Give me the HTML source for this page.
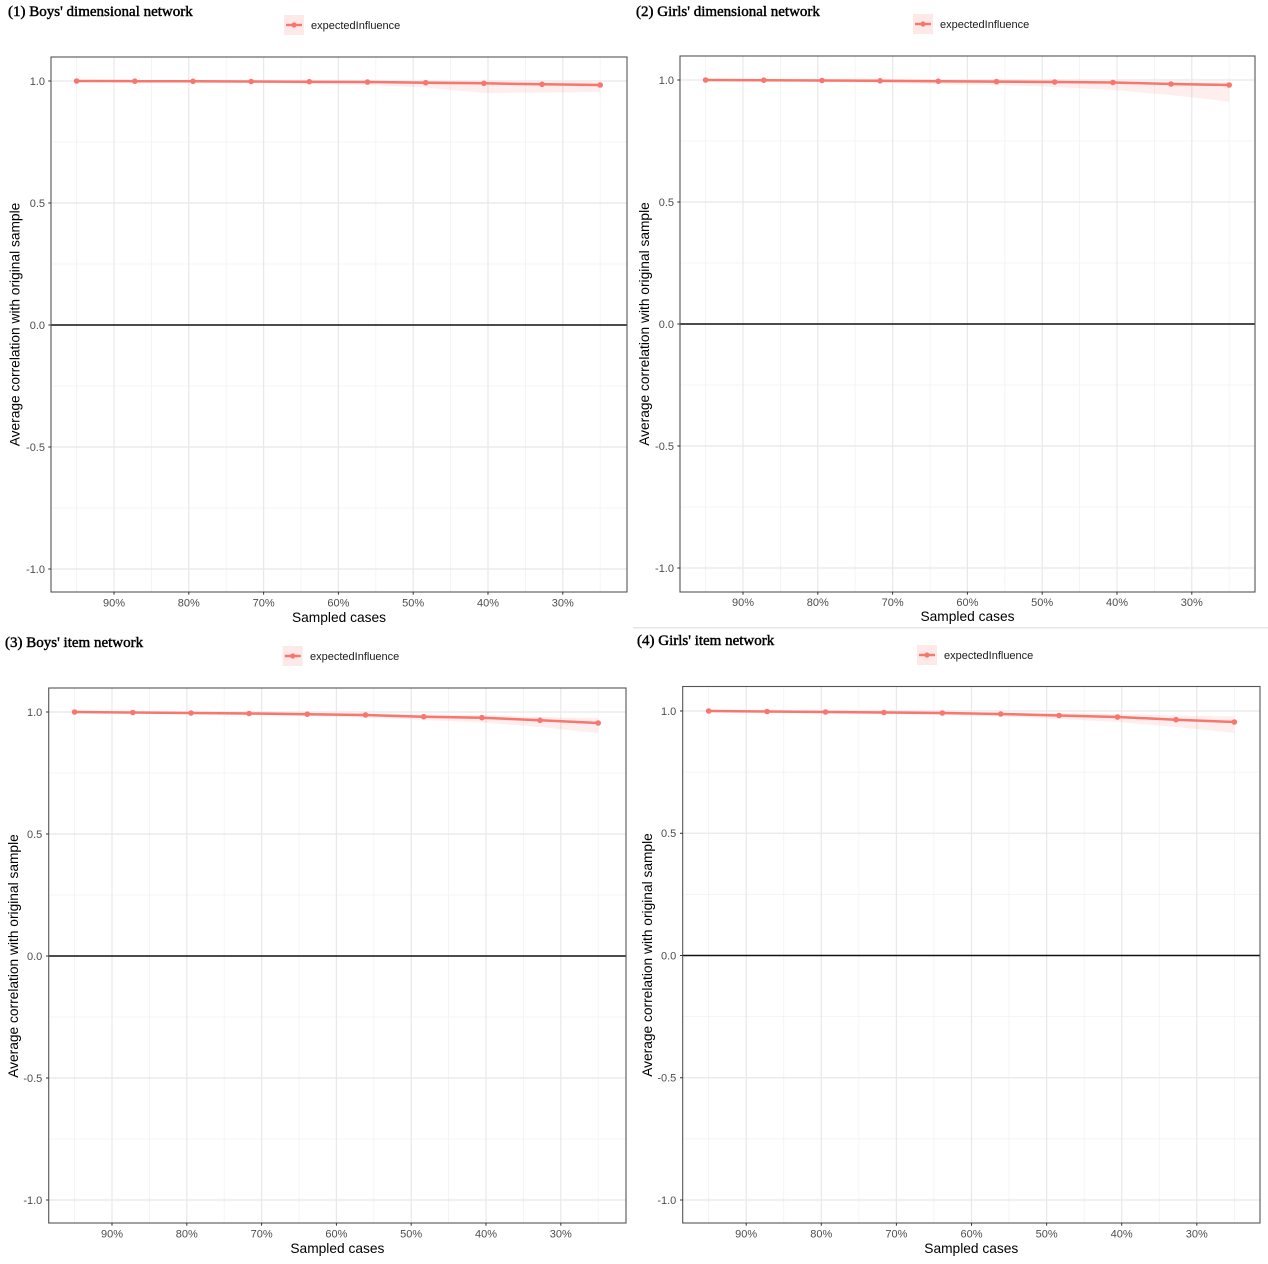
<!DOCTYPE html>
<html><head><meta charset="utf-8"><style>
html,body{margin:0;padding:0;background:#fff;}
svg{display:block;}
.t{font-family:"Liberation Serif","Times New Roman",serif;font-size:15px;fill:#000;stroke:#000;stroke-width:0.45px;}
.tk{font-family:"Liberation Sans",Arial,sans-serif;font-size:11px;fill:#4d4d4d;}
.lg{font-family:"Liberation Sans",Arial,sans-serif;font-size:11px;fill:#1a1a1a;}
.ax{font-family:"Liberation Sans",Arial,sans-serif;font-size:13.75px;fill:#000;}
.gM{stroke:#e8e8e8;stroke-width:1.2;}
.gm{stroke:#f2f2f2;stroke-width:0.8;}
.tkm{stroke:#333;stroke-width:1;}
.bd{fill:none;stroke:#555;stroke-width:1.1;}
.z{stroke:#111;stroke-width:1.4;}
.rb{fill:#F8766D;fill-opacity:0.12;}
.ln{fill:none;stroke:#F8766D;stroke-width:2.5;stroke-linejoin:round;}
.pt{fill:#F8766D;}
.lk{fill:#fdeae8;}
</style></head><body>
<svg width="1268" height="1264" viewBox="0 0 1268 1264" xmlns="http://www.w3.org/2000/svg">
<rect x="0" y="0" width="1268" height="1264" fill="#fff"/>

<!-- ================= PANEL 1 ================= -->
<text class="t" x="8" y="16">(1) Boys' dimensional network</text>
<rect class="lk" x="284" y="15" width="20" height="20"/>
<line x1="286" y1="25" x2="302" y2="25" stroke="#F8766D" stroke-width="2.4"/>
<circle cx="294" cy="25" r="2.6" class="pt"/>
<text class="lg" x="311" y="29">expectedInfluence</text>
<g>
<line class="gm" x1="51" y1="142" x2="627" y2="142"/><line class="gm" x1="51" y1="264" x2="627" y2="264"/><line class="gm" x1="51" y1="386" x2="627" y2="386"/><line class="gm" x1="51" y1="508" x2="627" y2="508"/>
<line class="gm" x1="76.6" y1="57" x2="76.6" y2="592"/><line class="gm" x1="151.4" y1="57" x2="151.4" y2="592"/><line class="gm" x1="226.2" y1="57" x2="226.2" y2="592"/><line class="gm" x1="301" y1="57" x2="301" y2="592"/><line class="gm" x1="375.8" y1="57" x2="375.8" y2="592"/><line class="gm" x1="450.6" y1="57" x2="450.6" y2="592"/><line class="gm" x1="525.4" y1="57" x2="525.4" y2="592"/><line class="gm" x1="600.2" y1="57" x2="600.2" y2="592"/>
<line class="gM" x1="51" y1="81" x2="627" y2="81"/><line class="gM" x1="51" y1="203" x2="627" y2="203"/><line class="gM" x1="51" y1="447" x2="627" y2="447"/><line class="gM" x1="51" y1="569" x2="627" y2="569"/>
<line class="gM" x1="114" y1="57" x2="114" y2="592"/><line class="gM" x1="188.8" y1="57" x2="188.8" y2="592"/><line class="gM" x1="263.6" y1="57" x2="263.6" y2="592"/><line class="gM" x1="338.4" y1="57" x2="338.4" y2="592"/><line class="gM" x1="413.2" y1="57" x2="413.2" y2="592"/><line class="gM" x1="488" y1="57" x2="488" y2="592"/><line class="gM" x1="562.8" y1="57" x2="562.8" y2="592"/>
<line class="z" x1="51" y1="325" x2="627" y2="325"/>
<path class="rb" d="M76.6,81 L134.8,81 L193,81 L251.1,81 L309.3,81 L367.5,81 L425.7,81.2 L483.9,81.5 L542,82 L600.2,82 L600.2,92 L542,92.5 L483.9,93 L425.7,87.5 L367.5,85 L309.3,84 L251.1,83 L193,82.5 L134.8,82 L76.6,81.5 Z"/>
<polyline class="ln" points="76.6,81 134.8,81.2 193,81.3 251.1,81.5 309.3,81.7 367.5,82 425.7,82.7 483.9,83.3 542,84.3 600.2,85"/>
<circle class="pt" cx="76.6" cy="81" r="2.8"/><circle class="pt" cx="134.8" cy="81.2" r="2.8"/><circle class="pt" cx="193" cy="81.3" r="2.8"/><circle class="pt" cx="251.1" cy="81.5" r="2.8"/><circle class="pt" cx="309.3" cy="81.7" r="2.8"/><circle class="pt" cx="367.5" cy="82" r="2.8"/><circle class="pt" cx="425.7" cy="82.7" r="2.8"/><circle class="pt" cx="483.9" cy="83.3" r="2.8"/><circle class="pt" cx="542" cy="84.3" r="2.8"/><circle class="pt" cx="600.2" cy="85" r="2.8"/>
<rect class="bd" x="51" y="57" width="576" height="535"/>
<line class="tkm" x1="48.3" y1="81" x2="51" y2="81"/><line class="tkm" x1="48.3" y1="203" x2="51" y2="203"/><line class="tkm" x1="48.3" y1="325" x2="51" y2="325"/><line class="tkm" x1="48.3" y1="447" x2="51" y2="447"/><line class="tkm" x1="48.3" y1="569" x2="51" y2="569"/>
<line class="tkm" x1="114" y1="592" x2="114" y2="594.7"/><line class="tkm" x1="188.8" y1="592" x2="188.8" y2="594.7"/><line class="tkm" x1="263.6" y1="592" x2="263.6" y2="594.7"/><line class="tkm" x1="338.4" y1="592" x2="338.4" y2="594.7"/><line class="tkm" x1="413.2" y1="592" x2="413.2" y2="594.7"/><line class="tkm" x1="488" y1="592" x2="488" y2="594.7"/><line class="tkm" x1="562.8" y1="592" x2="562.8" y2="594.7"/>
<text class="tk" text-anchor="end" x="45" y="84.9">1.0</text><text class="tk" text-anchor="end" x="45" y="206.9">0.5</text><text class="tk" text-anchor="end" x="45" y="328.9">0.0</text><text class="tk" text-anchor="end" x="45" y="450.9">-0.5</text><text class="tk" text-anchor="end" x="45" y="572.9">-1.0</text>
<text class="tk" text-anchor="middle" x="114" y="606.5">90%</text><text class="tk" text-anchor="middle" x="188.8" y="606.5">80%</text><text class="tk" text-anchor="middle" x="263.6" y="606.5">70%</text><text class="tk" text-anchor="middle" x="338.4" y="606.5">60%</text><text class="tk" text-anchor="middle" x="413.2" y="606.5">50%</text><text class="tk" text-anchor="middle" x="488" y="606.5">40%</text><text class="tk" text-anchor="middle" x="562.8" y="606.5">30%</text>
<text class="ax" text-anchor="middle" x="339" y="622">Sampled cases</text>
<text class="ax" text-anchor="middle" transform="translate(19.5,324.5) rotate(-90)">Average correlation with original sample</text>
</g>

<!-- ================= PANEL 2 ================= -->
<text class="t" x="636" y="16">(2) Girls' dimensional network</text>
<rect class="lk" x="913" y="14" width="20" height="20"/>
<line x1="915" y1="24" x2="931" y2="24" stroke="#F8766D" stroke-width="2.4"/>
<circle cx="923" cy="24" r="2.6" class="pt"/>
<text class="lg" x="940" y="28">expectedInfluence</text>
<g>
<line class="gm" x1="680" y1="141" x2="1255" y2="141"/><line class="gm" x1="680" y1="263" x2="1255" y2="263"/><line class="gm" x1="680" y1="385" x2="1255" y2="385"/><line class="gm" x1="680" y1="507" x2="1255" y2="507"/>
<line class="gm" x1="705.6" y1="56" x2="705.6" y2="592"/><line class="gm" x1="780.4" y1="56" x2="780.4" y2="592"/><line class="gm" x1="855.2" y1="56" x2="855.2" y2="592"/><line class="gm" x1="930" y1="56" x2="930" y2="592"/><line class="gm" x1="1004.8" y1="56" x2="1004.8" y2="592"/><line class="gm" x1="1079.6" y1="56" x2="1079.6" y2="592"/><line class="gm" x1="1154.4" y1="56" x2="1154.4" y2="592"/><line class="gm" x1="1229.2" y1="56" x2="1229.2" y2="592"/>
<line class="gM" x1="680" y1="80" x2="1255" y2="80"/><line class="gM" x1="680" y1="202" x2="1255" y2="202"/><line class="gM" x1="680" y1="446" x2="1255" y2="446"/><line class="gM" x1="680" y1="568" x2="1255" y2="568"/>
<line class="gM" x1="743" y1="56" x2="743" y2="592"/><line class="gM" x1="817.8" y1="56" x2="817.8" y2="592"/><line class="gM" x1="892.6" y1="56" x2="892.6" y2="592"/><line class="gM" x1="967.4" y1="56" x2="967.4" y2="592"/><line class="gM" x1="1042.2" y1="56" x2="1042.2" y2="592"/><line class="gM" x1="1117" y1="56" x2="1117" y2="592"/><line class="gM" x1="1191.8" y1="56" x2="1191.8" y2="592"/>
<line class="z" x1="680" y1="324" x2="1255" y2="324"/>
<path class="rb" d="M705.6,80 L763.8,80 L822,80 L880.1,80 L938.3,80 L996.5,80.3 L1054.7,80.5 L1112.9,81 L1171,81.5 L1229.2,82 L1229.2,101.5 L1171,95 L1112.9,90 L1054.7,87 L996.5,85 L938.3,84 L880.1,83 L822,82 L763.8,81 L705.6,80.5 Z"/>
<polyline class="ln" points="705.6,80 763.8,80.2 822,80.5 880.1,80.8 938.3,81.2 996.5,81.6 1054.7,82 1112.9,82.5 1171,84 1229.2,85"/>
<circle class="pt" cx="705.6" cy="80" r="2.8"/><circle class="pt" cx="763.8" cy="80.2" r="2.8"/><circle class="pt" cx="822" cy="80.5" r="2.8"/><circle class="pt" cx="880.1" cy="80.8" r="2.8"/><circle class="pt" cx="938.3" cy="81.2" r="2.8"/><circle class="pt" cx="996.5" cy="81.6" r="2.8"/><circle class="pt" cx="1054.7" cy="82" r="2.8"/><circle class="pt" cx="1112.9" cy="82.5" r="2.8"/><circle class="pt" cx="1171" cy="84" r="2.8"/><circle class="pt" cx="1229.2" cy="85" r="2.8"/>
<rect class="bd" x="680" y="56" width="575" height="536"/>
<line class="tkm" x1="677.3" y1="80" x2="680" y2="80"/><line class="tkm" x1="677.3" y1="202" x2="680" y2="202"/><line class="tkm" x1="677.3" y1="324" x2="680" y2="324"/><line class="tkm" x1="677.3" y1="446" x2="680" y2="446"/><line class="tkm" x1="677.3" y1="568" x2="680" y2="568"/>
<line class="tkm" x1="743" y1="592" x2="743" y2="594.7"/><line class="tkm" x1="817.8" y1="592" x2="817.8" y2="594.7"/><line class="tkm" x1="892.6" y1="592" x2="892.6" y2="594.7"/><line class="tkm" x1="967.4" y1="592" x2="967.4" y2="594.7"/><line class="tkm" x1="1042.2" y1="592" x2="1042.2" y2="594.7"/><line class="tkm" x1="1117" y1="592" x2="1117" y2="594.7"/><line class="tkm" x1="1191.8" y1="592" x2="1191.8" y2="594.7"/>
<text class="tk" text-anchor="end" x="674" y="83.9">1.0</text><text class="tk" text-anchor="end" x="674" y="205.9">0.5</text><text class="tk" text-anchor="end" x="674" y="327.9">0.0</text><text class="tk" text-anchor="end" x="674" y="449.9">-0.5</text><text class="tk" text-anchor="end" x="674" y="571.9">-1.0</text>
<text class="tk" text-anchor="middle" x="743" y="606">90%</text><text class="tk" text-anchor="middle" x="817.8" y="606">80%</text><text class="tk" text-anchor="middle" x="892.6" y="606">70%</text><text class="tk" text-anchor="middle" x="967.4" y="606">60%</text><text class="tk" text-anchor="middle" x="1042.2" y="606">50%</text><text class="tk" text-anchor="middle" x="1117" y="606">40%</text><text class="tk" text-anchor="middle" x="1191.8" y="606">30%</text>
<text class="ax" text-anchor="middle" x="967.5" y="621">Sampled cases</text>
<text class="ax" text-anchor="middle" transform="translate(649,324) rotate(-90)">Average correlation with original sample</text>
</g>

<!-- separator -->
<line x1="633" y1="627.8" x2="1268" y2="627.8" stroke="#e6e6e6" stroke-width="1.5"/>

<!-- ================= PANEL 3 ================= -->
<text class="t" x="5" y="647">(3) Boys' item network</text>
<rect class="lk" x="282.7" y="646" width="20" height="20"/>
<line x1="284.7" y1="656" x2="300.7" y2="656" stroke="#F8766D" stroke-width="2.4"/>
<circle cx="292.7" cy="656" r="2.6" class="pt"/>
<text class="lg" x="310" y="660">expectedInfluence</text>
<g>
<line class="gm" x1="48.7" y1="773" x2="626" y2="773"/><line class="gm" x1="48.7" y1="895" x2="626" y2="895"/><line class="gm" x1="48.7" y1="1017" x2="626" y2="1017"/><line class="gm" x1="48.7" y1="1139" x2="626" y2="1139"/>
<line class="gm" x1="74.6" y1="688" x2="74.6" y2="1223"/><line class="gm" x1="149.4" y1="688" x2="149.4" y2="1223"/><line class="gm" x1="224.2" y1="688" x2="224.2" y2="1223"/><line class="gm" x1="299" y1="688" x2="299" y2="1223"/><line class="gm" x1="373.8" y1="688" x2="373.8" y2="1223"/><line class="gm" x1="448.6" y1="688" x2="448.6" y2="1223"/><line class="gm" x1="523.4" y1="688" x2="523.4" y2="1223"/><line class="gm" x1="598.2" y1="688" x2="598.2" y2="1223"/>
<line class="gM" x1="48.7" y1="712" x2="626" y2="712"/><line class="gM" x1="48.7" y1="834" x2="626" y2="834"/><line class="gM" x1="48.7" y1="1078" x2="626" y2="1078"/><line class="gM" x1="48.7" y1="1200" x2="626" y2="1200"/>
<line class="gM" x1="112" y1="688" x2="112" y2="1223"/><line class="gM" x1="186.8" y1="688" x2="186.8" y2="1223"/><line class="gM" x1="261.6" y1="688" x2="261.6" y2="1223"/><line class="gM" x1="336.4" y1="688" x2="336.4" y2="1223"/><line class="gM" x1="411.2" y1="688" x2="411.2" y2="1223"/><line class="gM" x1="486" y1="688" x2="486" y2="1223"/><line class="gM" x1="560.8" y1="688" x2="560.8" y2="1223"/>
<line class="z" x1="48.7" y1="956" x2="626" y2="956"/>
<path class="rb" d="M74.6,712 L132.8,712 L191,712 L249.1,712.5 L307.3,713 L365.5,713.5 L423.7,714.5 L481.9,715 L540,717 L598.2,718 L598.2,733 L540,727 L481.9,722.5 L423.7,720 L365.5,717.5 L307.3,716 L249.1,715 L191,714 L132.8,713 L74.6,712.5 Z"/>
<polyline class="ln" points="74.6,712 132.8,712.5 191,713 249.1,713.5 307.3,714.2 365.5,715 423.7,716.7 481.9,717.7 540,720.3 598.2,723"/>
<circle class="pt" cx="74.6" cy="712" r="2.8"/><circle class="pt" cx="132.8" cy="712.5" r="2.8"/><circle class="pt" cx="191" cy="713" r="2.8"/><circle class="pt" cx="249.1" cy="713.5" r="2.8"/><circle class="pt" cx="307.3" cy="714.2" r="2.8"/><circle class="pt" cx="365.5" cy="715" r="2.8"/><circle class="pt" cx="423.7" cy="716.7" r="2.8"/><circle class="pt" cx="481.9" cy="717.7" r="2.8"/><circle class="pt" cx="540" cy="720.3" r="2.8"/><circle class="pt" cx="598.2" cy="723" r="2.8"/>
<rect class="bd" x="48.7" y="688" width="577.3" height="535"/>
<line class="tkm" x1="46" y1="712" x2="48.7" y2="712"/><line class="tkm" x1="46" y1="834" x2="48.7" y2="834"/><line class="tkm" x1="46" y1="956" x2="48.7" y2="956"/><line class="tkm" x1="46" y1="1078" x2="48.7" y2="1078"/><line class="tkm" x1="46" y1="1200" x2="48.7" y2="1200"/>
<line class="tkm" x1="112" y1="1223" x2="112" y2="1225.7"/><line class="tkm" x1="186.8" y1="1223" x2="186.8" y2="1225.7"/><line class="tkm" x1="261.6" y1="1223" x2="261.6" y2="1225.7"/><line class="tkm" x1="336.4" y1="1223" x2="336.4" y2="1225.7"/><line class="tkm" x1="411.2" y1="1223" x2="411.2" y2="1225.7"/><line class="tkm" x1="486" y1="1223" x2="486" y2="1225.7"/><line class="tkm" x1="560.8" y1="1223" x2="560.8" y2="1225.7"/>
<text class="tk" text-anchor="end" x="42.3" y="715.9">1.0</text><text class="tk" text-anchor="end" x="42.3" y="837.9">0.5</text><text class="tk" text-anchor="end" x="42.3" y="959.9">0.0</text><text class="tk" text-anchor="end" x="42.3" y="1081.9">-0.5</text><text class="tk" text-anchor="end" x="42.3" y="1203.9">-1.0</text>
<text class="tk" text-anchor="middle" x="112" y="1237.5">90%</text><text class="tk" text-anchor="middle" x="186.8" y="1237.5">80%</text><text class="tk" text-anchor="middle" x="261.6" y="1237.5">70%</text><text class="tk" text-anchor="middle" x="336.4" y="1237.5">60%</text><text class="tk" text-anchor="middle" x="411.2" y="1237.5">50%</text><text class="tk" text-anchor="middle" x="486" y="1237.5">40%</text><text class="tk" text-anchor="middle" x="560.8" y="1237.5">30%</text>
<text class="ax" text-anchor="middle" x="337.4" y="1253">Sampled cases</text>
<text class="ax" text-anchor="middle" transform="translate(18,956) rotate(-90)">Average correlation with original sample</text>
</g>

<!-- ================= PANEL 4 ================= -->
<text class="t" x="637" y="645">(4) Girls' item network</text>
<rect class="lk" x="917" y="645" width="20" height="20"/>
<line x1="919" y1="655" x2="935" y2="655" stroke="#F8766D" stroke-width="2.4"/>
<circle cx="927" cy="655" r="2.6" class="pt"/>
<text class="lg" x="944" y="659">expectedInfluence</text>
<g>
<line class="gm" x1="682.7" y1="772.1" x2="1260" y2="772.1"/><line class="gm" x1="682.7" y1="894.4" x2="1260" y2="894.4"/><line class="gm" x1="682.7" y1="1016.6" x2="1260" y2="1016.6"/><line class="gm" x1="682.7" y1="1138.9" x2="1260" y2="1138.9"/>
<line class="gm" x1="708.65" y1="686.5" x2="708.65" y2="1223"/><line class="gm" x1="783.75" y1="686.5" x2="783.75" y2="1223"/><line class="gm" x1="858.85" y1="686.5" x2="858.85" y2="1223"/><line class="gm" x1="933.95" y1="686.5" x2="933.95" y2="1223"/><line class="gm" x1="1009.05" y1="686.5" x2="1009.05" y2="1223"/><line class="gm" x1="1084.15" y1="686.5" x2="1084.15" y2="1223"/><line class="gm" x1="1159.25" y1="686.5" x2="1159.25" y2="1223"/><line class="gm" x1="1234.35" y1="686.5" x2="1234.35" y2="1223"/>
<line class="gM" x1="682.7" y1="711" x2="1260" y2="711"/><line class="gM" x1="682.7" y1="833.25" x2="1260" y2="833.25"/><line class="gM" x1="682.7" y1="1077.75" x2="1260" y2="1077.75"/><line class="gM" x1="682.7" y1="1200" x2="1260" y2="1200"/>
<line class="gM" x1="746.2" y1="686.5" x2="746.2" y2="1223"/><line class="gM" x1="821.3" y1="686.5" x2="821.3" y2="1223"/><line class="gM" x1="896.4" y1="686.5" x2="896.4" y2="1223"/><line class="gM" x1="971.5" y1="686.5" x2="971.5" y2="1223"/><line class="gM" x1="1046.6" y1="686.5" x2="1046.6" y2="1223"/><line class="gM" x1="1121.7" y1="686.5" x2="1121.7" y2="1223"/><line class="gM" x1="1196.8" y1="686.5" x2="1196.8" y2="1223"/>
<line class="z" x1="682.7" y1="955.5" x2="1260" y2="955.5"/>
<path class="rb" d="M708.65,711 L767.1,711 L825.5,711 L883.9,711.5 L942.3,712 L1000.7,712.5 L1059.1,713 L1117.5,714 L1176,715.5 L1234.35,716.5 L1234.35,733 L1176,727 L1117.5,722 L1059.1,719 L1000.7,716.5 L942.3,715 L883.9,714 L825.5,713 L767.1,712 L708.65,711.5 Z"/>
<polyline class="ln" points="708.65,711 767.1,711.5 825.5,712 883.9,712.5 942.3,713 1000.7,714 1059.1,715.5 1117.5,717 1176,719.7 1234.35,722"/>
<circle class="pt" cx="708.65" cy="711" r="2.8"/><circle class="pt" cx="767.1" cy="711.5" r="2.8"/><circle class="pt" cx="825.5" cy="712" r="2.8"/><circle class="pt" cx="883.9" cy="712.5" r="2.8"/><circle class="pt" cx="942.3" cy="713" r="2.8"/><circle class="pt" cx="1000.7" cy="714" r="2.8"/><circle class="pt" cx="1059.1" cy="715.5" r="2.8"/><circle class="pt" cx="1117.5" cy="717" r="2.8"/><circle class="pt" cx="1176" cy="719.7" r="2.8"/><circle class="pt" cx="1234.35" cy="722" r="2.8"/>
<rect class="bd" x="682.7" y="686.5" width="577.3" height="536.5"/>
<line class="tkm" x1="680" y1="711" x2="682.7" y2="711"/><line class="tkm" x1="680" y1="833.25" x2="682.7" y2="833.25"/><line class="tkm" x1="680" y1="955.5" x2="682.7" y2="955.5"/><line class="tkm" x1="680" y1="1077.75" x2="682.7" y2="1077.75"/><line class="tkm" x1="680" y1="1200" x2="682.7" y2="1200"/>
<line class="tkm" x1="746.2" y1="1223" x2="746.2" y2="1225.7"/><line class="tkm" x1="821.3" y1="1223" x2="821.3" y2="1225.7"/><line class="tkm" x1="896.4" y1="1223" x2="896.4" y2="1225.7"/><line class="tkm" x1="971.5" y1="1223" x2="971.5" y2="1225.7"/><line class="tkm" x1="1046.6" y1="1223" x2="1046.6" y2="1225.7"/><line class="tkm" x1="1121.7" y1="1223" x2="1121.7" y2="1225.7"/><line class="tkm" x1="1196.8" y1="1223" x2="1196.8" y2="1225.7"/>
<text class="tk" text-anchor="end" x="676.3" y="714.9">1.0</text><text class="tk" text-anchor="end" x="676.3" y="837.15">0.5</text><text class="tk" text-anchor="end" x="676.3" y="959.4">0.0</text><text class="tk" text-anchor="end" x="676.3" y="1081.65">-0.5</text><text class="tk" text-anchor="end" x="676.3" y="1203.9">-1.0</text>
<text class="tk" text-anchor="middle" x="746.2" y="1237.5">90%</text><text class="tk" text-anchor="middle" x="821.3" y="1237.5">80%</text><text class="tk" text-anchor="middle" x="896.4" y="1237.5">70%</text><text class="tk" text-anchor="middle" x="971.5" y="1237.5">60%</text><text class="tk" text-anchor="middle" x="1046.6" y="1237.5">50%</text><text class="tk" text-anchor="middle" x="1121.7" y="1237.5">40%</text><text class="tk" text-anchor="middle" x="1196.8" y="1237.5">30%</text>
<text class="ax" text-anchor="middle" x="971.3" y="1253">Sampled cases</text>
<text class="ax" text-anchor="middle" transform="translate(652,955) rotate(-90)">Average correlation with original sample</text>
</g>
</svg>
</body></html>
